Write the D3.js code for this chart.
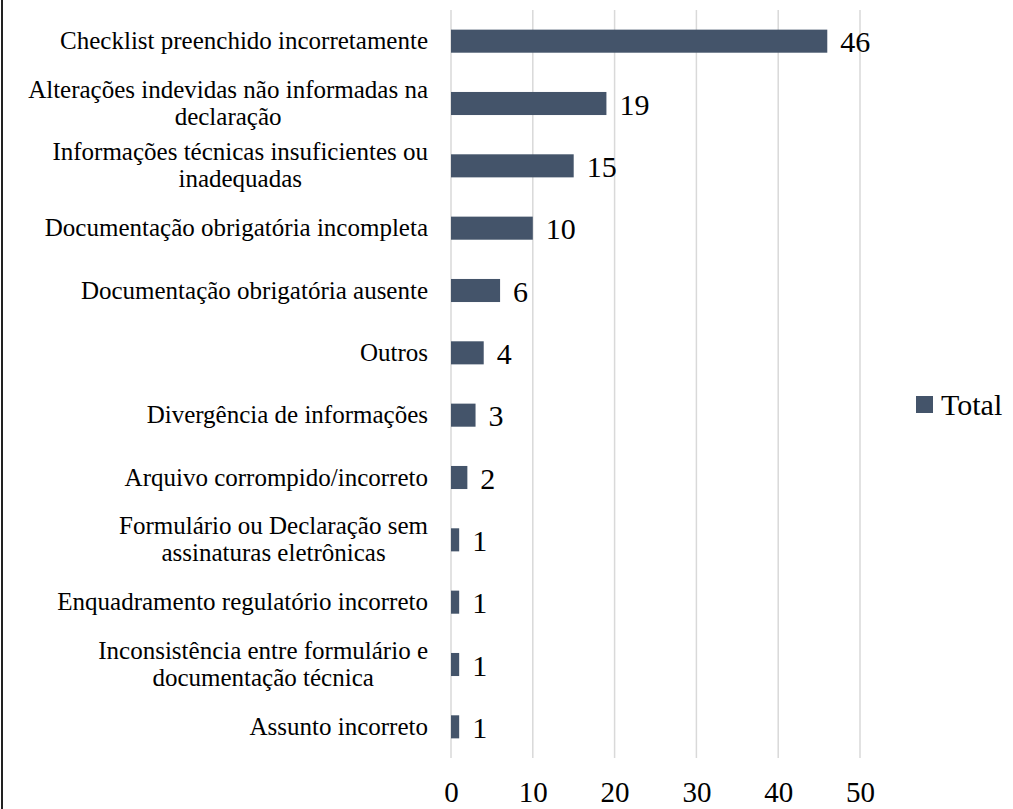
<!DOCTYPE html>
<html>
<head>
<meta charset="utf-8">
<title>Total</title>
<script src="https://cdn.jsdelivr.net/npm/d3@7"></script>
<style>
body { margin: 0; background: #fff; }
svg text { font-family: "Liberation Serif", "Times New Roman", serif; fill: #000; }
.grid line { stroke: #d9d9d9; stroke-width: 1.5; }
.axis path, .axis line { display: none; }
</style>
</head>
<body>
<svg width="1013" height="809"></svg>
<script>

var categories = [
  "Checklist preenchido incorretamente",
  "Alterações indevidas não informadas na declaração",
  "Informações técnicas insuficientes ou inadequadas",
  "Documentação obrigatória incompleta",
  "Documentação obrigatória ausente",
  "Outros",
  "Divergência de informações",
  "Arquivo corrompido/incorreto",
  "Formulário ou Declaração sem assinaturas eletrônicas",
  "Enquadramento regulatório incorreto",
  "Inconsistência entre formulário e documentação técnica",
  "Assunto incorreto"
];
var values = [46, 19, 15, 10, 6, 4, 3, 2, 1, 1, 1, 1];
var xTicks = [0, 10, 20, 30, 40, 50];
var seriesName = "Total";

var svg = d3.select("svg");
var barColor = "#44546a";
var serif = '"Liberation Serif", "Times New Roman", serif';

// chart frame edge (only left side shows)
svg.append("line")
    .attr("x1", 2).attr("x2", 2)
    .attr("y1", 0).attr("y2", 809)
    .attr("stroke", "#222").attr("stroke-width", 2);

var x = d3.scaleLinear().domain([0, 50]).range([451, 860]);
var y = d3.scaleBand().domain(categories).range([10, 758]).paddingInner(0.63).paddingOuter(0.315);

// gridlines
svg.append("g").attr("class", "grid")
  .selectAll("line").data(xTicks).enter().append("line")
    .attr("x1", function(d) { return x(d); })
    .attr("x2", function(d) { return x(d); })
    .attr("y1", 10).attr("y2", 758);

// x axis labels
svg.append("g")
    .attr("class", "axis")
    .attr("transform", "translate(0,758)")
    .attr("font-family", serif)
    .call(d3.axisBottom(x).tickValues(xTicks).tickSize(0).tickPadding(0))
  .selectAll("text")
    .attr("y", 44)
    .attr("dy", null)
    .style("font-size", "29px")
    .style("font-family", serif)
    .attr("fill", "#000");

// bars
svg.append("g").selectAll("rect").data(values).enter().append("rect")
    .attr("x", x(0))
    .attr("y", function(d, i) { return y(categories[i]); })
    .attr("width", function(d) { return x(d) - x(0); })
    .attr("height", y.bandwidth())
    .attr("fill", barColor);

// value labels
svg.append("g").selectAll("text").data(values).enter().append("text")
    .attr("x", function(d) { return x(d) + 13; })
    .attr("y", function(d, i) { return y(categories[i]) + y.bandwidth() / 2 + 11; })
    .style("font-size", "30px")
    .style("font-family", serif)
    .text(function(d) { return d; });

// category labels, wrapped
var labelSize = 25, lineH = 27, wrapW = 420, rightEdge = 428;
var measure = svg.append("text").style("font-size", labelSize + "px").style("font-family", serif).attr("visibility", "hidden");
function textW(s) { measure.text(s); return measure.node().getComputedTextLength(); }

categories.forEach(function(c) {
  var words = c.split(" "), lines = [], cur = "";
  words.forEach(function(w) {
    var t = cur ? cur + " " + w : w;
    if (cur && textW(t) > wrapW) { lines.push(cur); cur = w; } else cur = t;
  });
  lines.push(cur);
  var maxW = d3.max(lines, textW);
  var cx = rightEdge - maxW / 2;
  var cy = y(c) + y.bandwidth() / 2;
  var t = svg.append("text")
      .attr("text-anchor", "middle")
      .style("font-size", labelSize + "px")
      .style("font-family", serif);
  lines.forEach(function(l, j) {
    t.append("tspan")
      .attr("x", cx)
      .attr("y", cy + 8 + (j - (lines.length - 1) / 2) * lineH)
      .text(l);
  });
});
measure.remove();

// legend
var legend = svg.append("g").attr("transform", "translate(916,396)");
legend.append("rect").attr("width", 17).attr("height", 17).attr("fill", barColor);
legend.append("text").attr("x", 25).attr("y", 19)
    .style("font-size", "30px").style("font-family", serif).text(seriesName);

</script>
</body>
</html>
